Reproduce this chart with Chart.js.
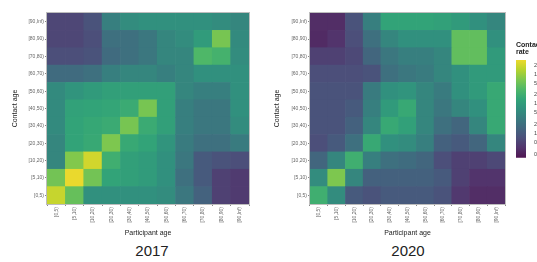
<!DOCTYPE html>
<html>
<head>
<meta charset="utf-8">
<script src="https://cdn.jsdelivr.net/npm/chart.js@4.4.1/dist/chart.umd.min.js"></script>
<style>
  html, body { margin: 0; padding: 0; background: #fff; }
  body { width: 537px; height: 262px; overflow: hidden; position: relative; font-family: 'Liberation Sans', Arial, sans-serif; }
  canvas { position: absolute; }
  .year { position: absolute; top: 242px; width: 60px; text-align: center; font-size: 15px; color: #222; }
</style>
</head>
<body>
<canvas id="chart2017" width="258" height="237" style="left:0;top:0"></canvas>
<canvas id="chart2020" width="246" height="237" style="left:262px;top:0"></canvas>
<canvas id="legend" width="50" height="126" style="left:512px;top:40px"></canvas>
<div class="year" style="left:122px">2017</div>
<div class="year" style="left:378px">2020</div>
<script>
const participantAges = ['[0,5)', '[5,10)', '[10,20)', '[20,30)', '[30,40)', '[40,50)', '[50,60)', '[60,70)', '[70,80)', '[80,90)', '[90,Inf)'];
const contactAges = participantAges;

// contact rate, rows = contact age (bottom to top), columns = participant age
const rates2017 = [
    [176, 45, 6.7, 6.7, 6.7, 6.7, 5.8, 2.7, 1.3, 0.47, 0.40],
    [56, 290, 56, 14, 12, 10, 6.7, 2.1, 1.0, 0.47, 0.40],
    [4.6, 70, 205, 21, 12, 10, 6.7, 2.7, 1.0, 0.8, 0.69],
    [4.6, 14, 17, 66, 17, 14, 7.8, 3.1, 2.1, 2.1, 3.1],
    [5.3, 14, 16, 18, 60, 18, 12, 3.6, 2.7, 2.7, 5.8],
    [5.3, 13, 14, 15, 18, 60, 12, 3.6, 2.7, 2.7, 6.7],
    [5.3, 7.8, 9.8, 12, 12, 12, 12, 4.6, 3.6, 3.6, 6.7],
    [1.8, 1.8, 2.1, 3.6, 4.6, 4.6, 3.6, 4.6, 6.7, 6.7, 6.7],
    [0.69, 0.69, 0.8, 1.8, 2.1, 2.7, 4.6, 4.6, 30, 24, 5.8],
    [0.55, 0.55, 0.69, 2.1, 2.1, 2.7, 4.6, 5.8, 10, 60, 5.3],
    [0.55, 0.55, 0.8, 3.6, 5.8, 6.7, 6.7, 6.7, 6.7, 5.8, 4.6]
];

const rates2020 = [
    [21, 5.8, 1.0, 0.8, 1.0, 1.0, 1.0, 0.8, 0.37, 0.275, 0.275],
    [5.8, 66, 4.6, 1.26, 1.26, 1.26, 1.26, 1.0, 0.47, 0.32, 0.32],
    [1.47, 4.6, 21, 3.6, 2.1, 1.84, 1.47, 0.69, 0.47, 0.47, 0.59],
    [0.69, 1.0, 2.1, 16.7, 6.7, 5.8, 3.6, 1.26, 1.0, 1.47, 4.6],
    [0.8, 0.8, 1.26, 4.6, 16.7, 12.3, 4.6, 2.1, 1.47, 4.6, 16.7],
    [0.8, 0.8, 1.0, 3.6, 9.8, 16.7, 4.6, 2.7, 4.6, 6.7, 16.7],
    [0.8, 0.8, 0.8, 3.1, 6.7, 7.8, 4.6, 3.1, 6.7, 9.8, 16.7],
    [0.69, 0.69, 0.69, 0.8, 2.1, 2.7, 3.1, 4.6, 6.7, 9.8, 9.8],
    [0.47, 0.47, 0.59, 1.47, 2.7, 3.6, 3.6, 4.6, 42, 42, 9.8],
    [0.255, 0.32, 0.69, 2.1, 4.6, 6.7, 6.7, 6.7, 42, 42, 6.7],
    [0.275, 0.275, 0.8, 3.6, 14, 14, 14, 12.3, 9.8, 6.7, 4.6]
];

const legendTicks = [200, 100, 50, 20, 10, 5, 2, 1, 0.5, 0.2];
const RATE_MIN = 0.15;
const RATE_MAX = 300;

const VIRIDIS = [
    [68, 1, 84], [72, 36, 117], [65, 68, 135], [53, 95, 141], [42, 120, 142],
    [33, 145, 140], [34, 168, 132], [68, 191, 112], [122, 209, 81], [189, 223, 38], [253, 231, 37]
];

function colorAt(t) {
    t = Math.min(1, Math.max(0, t));
    const p = t * (VIRIDIS.length - 1);
    const i = Math.min(Math.floor(p), VIRIDIS.length - 2);
    const f = p - i;
    const c = VIRIDIS[i].map((v, k) => v + (VIRIDIS[i + 1][k] - v) * f);
    // photo of a print: washed out, slightly warm
    const tint = [140, 140, 110];
    const m = c.map((x, k) => Math.round(x * 0.85 + tint[k] * 0.15));
    m[2] = Math.round(m[2] * 0.93);
    return `rgb(${m.join(',')})`;
}

function rateColor(v) {
    const lo = Math.log10(RATE_MIN), hi = Math.log10(RATE_MAX);
    return colorAt((Math.log10(v) - lo) / (hi - lo));
}

const framePlugin = {
    id: 'frame',
    afterDatasetsDraw(chart) {
        const { ctx, chartArea: a } = chart;
        ctx.save();
        ctx.strokeStyle = '#bdbdbd';
        ctx.lineWidth = 1;
        ctx.strokeRect(a.left - 0.5, a.top - 0.5, a.width + 1, a.height + 1);
        ctx.restore();
    }
};

function renderHeatmap(id, rates, yWidth, padRight) {
    const ctx = document.getElementById(id).getContext('2d');
    const datasets = contactAges.map((age, r) => ({
        label: age,
        data: participantAges.map(() => 1),
        backgroundColor: rates[r].map(rateColor),
        borderWidth: 0,
        barPercentage: 1,
        categoryPercentage: 1,
    }));

    return new Chart(ctx, {
        type: 'bar',
        data: { labels: participantAges, datasets: datasets },
        options: {
            responsive: false,
            animation: false,
            layout: { padding: { left: 8, right: padRight, top: 13, bottom: 0 } },
            plugins: {
                legend: { display: false },
                tooltip: { enabled: false },
            },
            scales: {
                x: {
                    stacked: true,
                    grid: { drawOnChartArea: false, tickLength: 2, color: '#888' },
                    border: { display: false },
                    ticks: { minRotation: 90, maxRotation: 90, autoSkip: false, font: { size: 5 }, color: '#666', padding: 1 },
                    title: { display: true, text: 'Participant age', font: { size: 7 }, color: '#222', padding: { top: 0, bottom: 0 } },
                    afterFit: s => { s.height = 33; }
                },
                y: {
                    type: 'linear',
                    stacked: true,
                    min: 0,
                    max: 11,
                    afterBuildTicks: axis => { axis.ticks = contactAges.map((_, i) => ({ value: i + 0.5 })); },
                    grid: { drawOnChartArea: false, tickLength: 2, color: '#888' },
                    border: { display: false },
                    ticks: { callback: v => contactAges[Math.floor(v)], autoSkip: false, font: { size: 5 }, color: '#666', padding: 1 },
                    title: { display: true, text: 'Contact age', font: { size: 7 }, color: '#222', padding: { top: 3, bottom: 0 } },
                    afterFit: s => { s.width = yWidth; }
                }
            }
        },
        plugins: [framePlugin]
    });
}

function renderLegend() {
    const ctx = document.getElementById('legend').getContext('2d');
    new Chart(ctx, {
        type: 'bar',
        data: {
            labels: ['rate'],
            datasets: [{
                data: [[RATE_MIN, RATE_MAX]],
                backgroundColor: c => {
                    const a = c.chart.chartArea;
                    if (!a) return '#888';
                    const g = c.chart.ctx.createLinearGradient(0, a.bottom, 0, a.top);
                    for (let i = 0; i <= 20; i++) g.addColorStop(i / 20, colorAt(i / 20));
                    return g;
                },
                borderWidth: 0,
                borderSkipped: false,
                barPercentage: 1,
                categoryPercentage: 1,
            }]
        },
        options: {
            responsive: false,
            animation: false,
            layout: { padding: { left: 4, right: 0, top: 0, bottom: 0 } },
            plugins: {
                legend: { display: false },
                tooltip: { enabled: false },
                title: { display: true, text: ['Contact', 'rate'], align: 'start', font: { size: 7, lineHeight: 1 }, color: '#222', padding: { top: 2, bottom: 4 } }
            },
            scales: {
                x: { display: false },
                y: {
                    type: 'logarithmic',
                    position: 'right',
                    min: RATE_MIN,
                    max: RATE_MAX,
                    afterBuildTicks: axis => { axis.ticks = legendTicks.map(v => ({ value: v })); },
                    grid: { drawOnChartArea: false, tickLength: 3, color: '#fff' },
                    border: { display: false },
                    ticks: { callback: v => String(v), font: { size: 5.5 }, color: '#444', padding: 5 },
                    afterFit: s => { s.width = 36; }
                }
            }
        }
    });
}

renderHeatmap('chart2017', rates2017, 39, 9);
renderHeatmap('chart2020', rates2020, 40, 3);
renderLegend();
</script>
</body>
</html>
